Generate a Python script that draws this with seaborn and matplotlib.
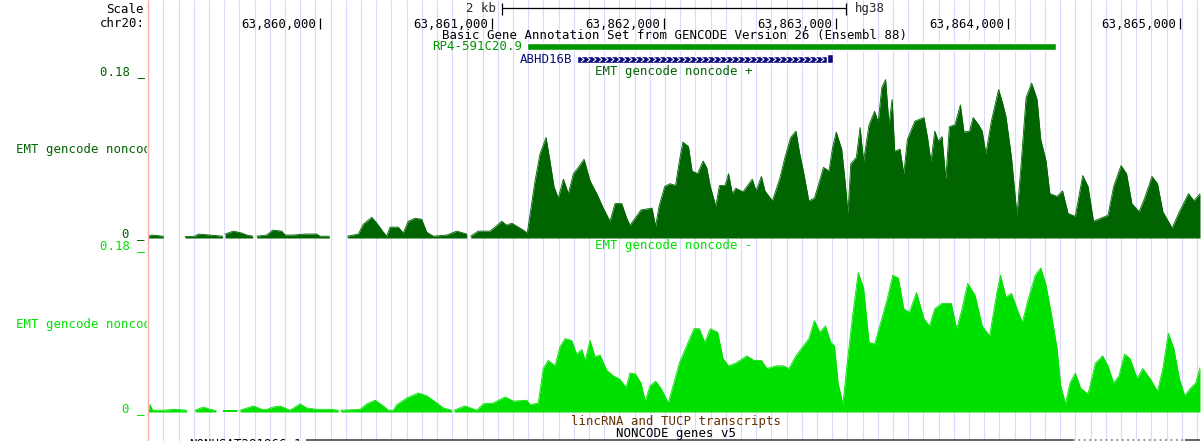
import numpy as np
import pandas as pd
import matplotlib
matplotlib.use("Agg")
import matplotlib.pyplot as plt
import seaborn as sns

# ---------------- data ----------------
CHROM = "chr20:"
ASSEMBLY = "hg38"
WINDOW_START = 63859000
WINDOW_END = 63865116
RULER_TICKS = [63860000, 63861000, 63862000, 63863000, 63864000, 63865000]
SCALE_BAR_BP = 2000
TRACK_MAX = 0.18

GENE_RP4 = ("RP4-591C20.9", 63861204, 63864279)
GENE_ABHD16B = ("ABHD16B", 63861494, 63862983)
NONCODE_SOLID = [(63859919, 63864378), (63865029, 63865116)]
NONCODE_DOTTED = [(63864378, 63865029)]

G = None  # gap (no data)

# EMT gencode noncode + : (offset from window start in bp, value)
TOP_OFFSET = [2, 22, 89, 150, 215, 273, 292, 360, 434, 441, 448, 496, 545, 574, 609, 620,
              632, 690, 725, 777, 797, 845, 913, 981, 1000, 1054, 1100,
              1159, 1223, 1252, 1301, 1330, 1368, 1388, 1407, 1455, 1484, 1513, 1552, 1591,
              1620, 1659, 1737, 1795, 1853, 1865,
              1876, 1920, 1988, 2017, 2056, 2085, 2115, 2153, 2182, 2205, 2221, 2250, 2279,
              2314, 2337, 2360, 2385, 2415, 2444, 2473, 2502, 2535, 2570, 2609, 2647, 2686,
              2715, 2754, 2783, 2802, 2866, 2930, 2951, 2971, 3004, 3035, 3067, 3089, 3110,
              3142, 3163, 3195, 3227, 3248, 3269, 3301, 3322, 3355, 3375, 3397, 3417, 3459,
              3513, 3535, 3566, 3587, 3630, 3672, 3703, 3736, 3767, 3789, 3810, 3842, 3874,
              3895, 3927, 3959, 3980, 4001, 4033, 4054, 4069, 4086, 4118, 4140, 4160, 4192,
              4224, 4245, 4266, 4288, 4308, 4326, 4341, 4372, 4394, 4415, 4458, 4511, 4532,
              4552, 4574, 4595, 4616, 4638, 4659, 4691, 4723, 4744, 4776, 4797, 4829, 4850,
              4871, 4903, 4945, 4967, 4988, 5020, 5052, 5073, 5105, 5137, 5169, 5190, 5221,
              5243, 5285, 5317, 5349, 5391, 5434, 5465, 5497, 5540, 5581, 5614, 5657, 5689,
              5720, 5762, 5794, 5837, 5869, 5900, 5954, 5996, 6049, 6081, 6116]
TOP_VALUE = [.002, .0033, .002, G, .0016, .002, .0044, .0033, .002, G, .0044, .0076, .0055, .0033, .002, G,
             .002, .0033, .0087, .0076, .0033, .0033, .0044, .0044, .002, .002, G,
             .002, .0044, .0153, .0229, .0164, .0065, .002, .012, .012, .0055, .0185, .0218, .0207,
             .0065, .002, .0033, .0076, .0044, G,
             .002, .0076, .0076, .012, .0185, .0142, .0164, .012, .0087, .0055, .026, .063, .093,
             .111, .085, .057, .044, .065, .049, .071, .078, .087, .063, .049, .033, .0185,
             .038, .038, .022, .014, .031, .033, .013, .035, .057, .06, .058, .085, .106,
             .101, .074, .071, .085, .078, .057, .035, .058, .058, .071, .049, .055, .051,
             .065, .052, .068, .052, .041, .065, .089, .111, .118, .093, .074, .041, .044,
             .057, .078, .074, .1, .117, .098, .06, .027, .082, .089, .122, .085, .125,
             .14, .128, .166, .175, .125, .153, .096, .098, .071, .109, .129, .133, .111,
             .084, .118, .107, .112, .065, .123, .125, .147, .117, .118, .133, .125, .118,
             .093, .129, .164, .15, .134, .089, .025, .074, .155, .171, .153, .109, .085,
             .049, .046, .052, .027, .024, .069, .057, .0185, .022, .025, .057, .08, .071,
             .038, .029, .044, .068, .06, .029, .011, .029, .049, .041, .049]

# EMT gencode noncode - : (offset from window start in bp, value)
BOTTOM_OFFSET = [2, 12, 27, 89, 157, 225, 250,
                 273, 322, 360, 395, 415,
                 434, 516, 525,
                 535, 612, 661, 690, 729, 767, 826, 884, 923, 981, 1058, 1106, 1113,
                 1120, 1233, 1272, 1320, 1368, 1397, 1426, 1446, 1504, 1572, 1620, 1679, 1717,
                 1766, 1772,
                 1779, 1843, 1911, 1949, 2008, 2076, 2124, 2202, 2221, 2269, 2298, 2327, 2366,
                 2395, 2424, 2463, 2492, 2522, 2541, 2570, 2599, 2628, 2667, 2705, 2744, 2779,
                 2802, 2834, 2866, 2891, 2919, 2951, 2983, 3025, 3057, 3089, 3120, 3174, 3205,
                 3237, 3269, 3312, 3343, 3375, 3417, 3481, 3523, 3566, 3598, 3651, 3694, 3726,
                 3767, 3810, 3842, 3874, 3906, 3938, 3969, 3991, 4012, 4040, 4065, 4097, 4129,
                 4160, 4192, 4224, 4266, 4298, 4330, 4362, 4394, 4426, 4468, 4511, 4543, 4574,
                 4616, 4670, 4701, 4733, 4765, 4808, 4850, 4893, 4935, 4956, 4988, 5020, 5052,
                 5083, 5115, 5158, 5190, 5221, 5253, 5285, 5306, 5334, 5360, 5391, 5423, 5465,
                 5508, 5550, 5581, 5614, 5645, 5677, 5709, 5751, 5783, 5825, 5869, 5900, 5932,
                 5964, 5996, 6027, 6059, 6091, 6116]
BOTTOM_VALUE = [.002, .008, .002, .002, .003, .002, G,
                .002, .0055, .003, .0017, G,
                .002, .002, G,
                .002, .0067, .003, .003, .0055, .0067, .002, .009, .0044, .003, .003, .002, G,
                .002, .003, .009, .013, .0067, .002, .002, .008, .0155, .021, .018, .01, .0044,
                .002, G,
                .002, .0067, .002, .009, .01, .0167, .012, .013, .008, .01, .048, .057, .051,
                .072, .081, .079, .064, .069, .057, .079, .061, .063, .046, .04, .036, .027,
                .043, .042, .032, .012, .029, .034, .026, .01, .032, .054, .068, .092, .092,
                .077, .092, .088, .059, .051, .054, .062, .057, .057, .048, .051, .051, .048,
                .062, .073, .081, .101, .088, .095, .077, .073, .032, .009, .054, .107, .154,
                .137, .077, .075, .103, .125, .151, .148, .114, .11, .132, .103, .095, .114,
                .12, .12, .092, .114, .142, .129, .095, .084, .132, .151, .127, .131, .114,
                .099, .123, .151, .159, .14, .107, .07, .029, .009, .032, .043, .026, .02,
                .054, .062, .051, .032, .04, .064, .059, .037, .048, .037, .023, .048, .087,
                .07, .037, .018, .026, .032, .049]

TOP_TITLE = "EMT gencode noncode +"
BOTTOM_TITLE = "EMT gencode noncode -"
TRACK_SHORT = "EMT gencode noncode"

# ---------------- style ----------------
W, H = 1202, 441
DARK = "#006400"
BRIGHT = "#00e000"
GENE_GREEN = "#009600"
NAVY = "#0c0c78"
BROWN = "#643200"
GRID = "#dadaff"
PINK = "#ffaaaa"
FS = 8.9

sns.set_theme(style="white")
plt.rcParams["font.family"] = ["DejaVu Sans Mono", "DejaVu Sans"]
plt.rcParams["font.size"] = FS

fig = plt.figure(figsize=(W / 100, H / 100), dpi=100)
fig.patch.set_facecolor("white")

DATA_L, DATA_R = 148, 1200


def px_axes(x0, y0, x1, y1):
    ax = fig.add_axes([x0 / W, 1 - y1 / H, (x1 - x0) / W, (y1 - y0) / H])
    ax.patch.set_alpha(0)
    ax.set_axis_off()
    return ax


# genomic axes over the whole height (guides, ruler, genes)
gax = px_axes(DATA_L, 0, DATA_R, H)
gax.set_xlim(WINDOW_START, WINDOW_END)
gax.set_ylim(H, 0)

bp_per_px = (WINDOW_END - WINDOW_START) / (DATA_R - DATA_L)
guides = np.arange(WINDOW_START + 89, WINDOW_END, 15.2 * bp_per_px)
gax.vlines(guides, 0, H, color=GRID, lw=0.8, zorder=0)

# ruler
gax.vlines(RULER_TICKS, 17.5, 28.5, color="black", lw=0.9)
for t in RULER_TICKS:
    gax.annotate(f"{t:,}", xy=(t, 27.5), xytext=(-4, 0), textcoords="offset pixels",
                 ha="right", va="baseline", color="black", fontsize=FS, annotation_clip=False)

# scale bar
center = (WINDOW_START + WINDOW_END) / 2
sb_l, sb_r = center - SCALE_BAR_BP / 2, center + SCALE_BAR_BP / 2
gax.hlines(8, sb_l, sb_r, color="black", lw=0.9)
gax.vlines([sb_l, sb_r], 2.5, 14.5, color="black", lw=0.9)
gax.annotate(f"{SCALE_BAR_BP // 1000} kb", xy=(sb_l, 12), xytext=(-6, 0), textcoords="offset pixels",
             ha="right", va="baseline", fontsize=FS)
gax.annotate(ASSEMBLY, xy=(sb_r, 12), xytext=(9, 0), textcoords="offset pixels",
             ha="left", va="baseline", fontsize=FS)

# genes
name, s, e = GENE_RP4
gax.broken_barh([(s, e - s)], (42.5, 7), facecolors=GENE_GREEN, zorder=3)
gax.annotate(name, xy=(s, 50), xytext=(-5, 0), textcoords="offset pixels",
             ha="right", va="baseline", color=GENE_GREEN, fontsize=FS)

name, s, e = GENE_ABHD16B
gax.broken_barh([(s, e - s)], (55.5, 7), facecolors=NAVY, zorder=3)
gax.broken_barh([(e - 35, 35)], (54, 9), facecolors=NAVY, zorder=3)
chev = np.arange(s + 30, e - 45, 6 * bp_per_px)
gax.plot(chev, np.full(len(chev), 59), ls="none", marker=[(-0.6, -1), (0.6, 0), (-0.6, 1)],
         ms=3.6, mec="white", mfc="none", mew=0.8, zorder=4)
gax.annotate(name, xy=(s, 63), xytext=(-5, 0), textcoords="offset pixels",
             ha="right", va="baseline", color=NAVY, fontsize=FS)

# noncode gene line at the bottom edge
for a, b in NONCODE_SOLID:
    gax.hlines(440, a, b, color="#555555", lw=1.3)
for a, b in NONCODE_DOTTED:
    gax.hlines(440, a, b, color="#888888", lw=1.3, linestyles=(0, (1, 2)))


# wiggle tracks
def track_frame(offsets, values):
    df = pd.DataFrame({"pos": WINDOW_START + np.asarray(offsets, float),
                       "val": [np.nan if v is None else v for v in values]})
    df["segment"] = df["val"].isna().cumsum()
    return df


def draw_track(y_top, y_bot, df, color):
    ax = px_axes(DATA_L, y_top, DATA_R, y_bot)
    for _, seg in df.dropna().groupby("segment"):
        ax.fill_between(seg["pos"], 0, seg["val"], color=color, lw=0)
    sns.lineplot(data=df.dropna(), x="pos", y="val", units="segment", estimator=None,
                 color=color, lw=0.6, ax=ax, legend=False)
    ax.set_xlim(WINDOW_START, WINDOW_END)
    ax.set_ylim(0, TRACK_MAX)
    ax.set_axis_off()
    return ax


draw_track(75, 238, track_frame(TOP_OFFSET, TOP_VALUE), DARK)
draw_track(249, 412, track_frame(BOTTOM_OFFSET, BOTTOM_VALUE), BRIGHT)

# overlay for labels
ov = px_axes(0, 0, W, H)
ov.set_xlim(0, W)
ov.set_ylim(H, 0)
ov.vlines(147.5, 0, H, color=PINK, lw=1.0)


def T(x, yc, s, color="black", ha="center"):
    ov.text(x, yc + 4.2, s, ha=ha, va="baseline", color=color, fontsize=FS)


T(144, 8.5, "Scale", ha="right")
T(144.5, 23, CHROM, ha="right")
T(674, 34.5, "Basic Gene Annotation Set from GENCODE Version 26 (Ensembl 88)")
T(674, 71, TOP_TITLE, DARK)
T(145, 71.3, f"{TRACK_MAX:.2f} _", DARK, ha="right")
T(145, 233, "0 _", DARK, ha="right")
T(145, 245, f"{TRACK_MAX:.2f} _", BRIGHT, ha="right")
T(674, 245, BOTTOM_TITLE, BRIGHT)
T(145, 407.7, "0 _", BRIGHT, ha="right")
T(676, 420.7, "lincRNA and TUCP transcripts", BROWN)
T(675.5, 432.7, "NONCODE genes v5")
ov.text(302, 448, "NONHSAT281966.1", ha="right", va="baseline", fontsize=FS, color="black")

# clipped left labels
la = px_axes(0, 0, 147, H)
la.set_xlim(0, 147)
la.set_ylim(H, 0)
la.text(16, 153.5, TRACK_SHORT, color=DARK, fontsize=FS, va="baseline", clip_on=True)
la.text(16, 328, TRACK_SHORT, color=BRIGHT, fontsize=FS, va="baseline", clip_on=True)

fig.savefig("out.png", dpi=100, facecolor="white")
